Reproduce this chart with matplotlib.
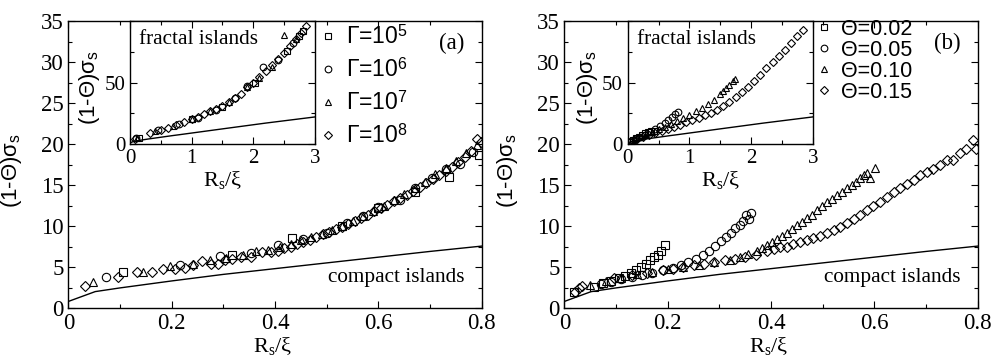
import matplotlib
matplotlib.use("Agg")
import matplotlib.pyplot as plt
from matplotlib.ticker import MultipleLocator, FormatStrFormatter

plt.rcParams['font.family'] = ['Liberation Serif', 'DejaVu Serif']
plt.rcParams['mathtext.fontset'] = 'custom'
plt.rcParams['mathtext.rm'] = 'Liberation Serif'
plt.rcParams['mathtext.it'] = 'Liberation Serif:italic'
plt.rcParams['mathtext.sf'] = 'Liberation Sans'

# ---- data ----
# compact islands curve (same in every axes)
comp_x = [0.0, 0.052, 0.1, 0.2, 0.3, 0.4, 0.5, 0.6, 0.7, 0.8, 1.5, 2.2, 3.0]
comp_y = [0.8, 2.0, 2.45, 3.3, 4.1, 4.8, 5.5, 6.2, 6.9, 7.55, 12.3, 17.0, 22.0]

# panel (a), main
a_g5_x = [0.106, 0.316, 0.432, 0.530, 0.600, 0.671, 0.736, 0.794]
a_g5_y = [4.4, 6.5, 8.5, 10.0, 12.2, 14.2, 16.0, 18.7]
a_g6_x = [0.072, 0.216, 0.293, 0.354, 0.406, 0.455, 0.500, 0.539, 0.570, 0.600, 0.642, 0.670, 0.703, 0.730, 0.758, 0.784]
a_g6_y = [3.8, 5.3, 6.3, 6.7, 7.7, 8.4, 9.2, 10.4, 11.2, 12.3, 13.2, 14.6, 15.8, 16.9, 17.6, 19.0]
a_g7_x = [0.048, 0.145, 0.196, 0.241, 0.275, 0.306, 0.338, 0.364, 0.386, 0.410, 0.430, 0.450, 0.470, 0.490, 0.510,
          0.530, 0.550, 0.570, 0.590, 0.610, 0.630, 0.650, 0.670, 0.690, 0.710, 0.730, 0.750, 0.770, 0.790]
a_g7_y = [3.2, 4.4, 5.1, 5.4, 5.9, 6.1, 6.5, 6.9, 7.1, 7.5, 7.8, 8.3, 8.6, 9.0, 9.5,
          10.0, 10.6, 11.2, 11.8, 12.5, 13.2, 13.9, 14.6, 15.4, 16.3, 17.1, 17.9, 18.9, 19.9]
a_g8_x = [0.032, 0.096, 0.132, 0.161, 0.183, 0.206, 0.225, 0.242, 0.258, 0.277, 0.290, 0.303, 0.316, 0.335, 0.354,
          0.374, 0.393, 0.405, 0.418, 0.430, 0.443, 0.455, 0.468, 0.480, 0.492, 0.505, 0.517, 0.530, 0.542, 0.555,
          0.567, 0.580, 0.592, 0.605, 0.617, 0.630, 0.642, 0.655, 0.667, 0.680, 0.692, 0.705, 0.717, 0.730, 0.742,
          0.755, 0.767, 0.780, 0.790, 0.798]
a_g8_y = [2.7, 3.8, 4.4, 4.4, 4.8, 4.7, 4.9, 5.3, 5.7, 5.4, 5.4, 5.8, 6.0, 6.2, 6.2,
          6.8, 6.8, 7.0, 7.3, 7.5, 7.8, 8.0, 8.3, 8.7, 9.0, 9.3, 9.6, 9.9, 10.3, 10.6,
          11.0, 11.4, 11.8, 12.2, 12.6, 13.0, 13.4, 13.8, 14.3, 14.7, 15.2, 15.7, 16.2, 16.7, 17.2,
          17.8, 18.4, 19.2, 20.6, 20.2]

# panel (a), inset
ia_g5_x = [0.15, 1.0, 1.5, 2.03, 2.55, 2.74, 2.80]
ia_g5_y = [5.0, 20.0, 30.0, 50.0, 76.0, 88.0, 92.0]
ia_g6_x = [0.10, 0.45, 0.80, 1.10, 1.40, 1.70, 1.90, 2.15, 2.40, 2.65]
ia_g6_y = [4.5, 11.0, 16.0, 21.5, 28.0, 37.0, 47.0, 63.0, 68.0, 82.0]
ia_g7_x = [0.12, 0.40, 0.70, 1.00, 1.30, 1.60, 1.90, 2.10, 2.30, 2.50, 2.70]
ia_g7_y = [5.0, 10.5, 15.0, 20.0, 26.5, 34.0, 46.0, 54.0, 63.0, 89.0, 85.0]
ia_g8_x = [0.08, 0.33, 0.50, 0.62, 0.75, 0.88, 1.00, 1.10, 1.20, 1.30, 1.40, 1.50, 1.60, 1.70, 1.80,
           1.90, 2.00, 2.10, 2.20, 2.30, 2.40, 2.50, 2.60, 2.70, 2.78, 2.86]
ia_g8_y = [4.0, 9.0, 11.5, 13.0, 15.5, 17.5, 20.0, 22.0, 24.0, 26.5, 28.5, 31.0, 34.0, 37.5, 41.0,
           46.0, 50.0, 54.5, 59.0, 64.0, 69.0, 74.0, 79.5, 85.0, 90.0, 96.0]

# panel (b), main
b_t02_x = [0.019, 0.057, 0.075, 0.090, 0.105, 0.118, 0.129, 0.138, 0.148, 0.158, 0.166, 0.174, 0.181, 0.188, 0.195]
b_t02_y = [1.9, 2.6, 3.0, 3.3, 3.6, 3.9, 4.3, 4.6, 5.0, 5.4, 5.8, 6.2, 6.5, 6.9, 7.7]
b_t05_x = [0.071, 0.090, 0.110, 0.130, 0.150, 0.170, 0.190, 0.210, 0.225, 0.240, 0.255, 0.268, 0.280, 0.292,
           0.303, 0.313, 0.322, 0.331, 0.339, 0.346, 0.352, 0.358, 0.362]
b_t05_y = [2.9, 3.2, 3.5, 3.8, 4.0, 4.3, 4.6, 4.9, 5.2, 5.6, 6.0, 6.5, 7.0, 7.6,
           8.2, 8.7, 9.2, 9.7, 10.1, 10.6, 11.4, 10.8, 11.6]
b_t10_x = [0.050, 0.080, 0.110, 0.140, 0.170, 0.200, 0.230, 0.260, 0.290, 0.320, 0.340, 0.356, 0.372, 0.382, 0.392,
           0.402, 0.411, 0.421, 0.430, 0.440, 0.450, 0.460, 0.469, 0.479, 0.488, 0.498, 0.508, 0.518, 0.527, 0.537,
           0.547, 0.556, 0.565, 0.573, 0.580, 0.586, 0.592, 0.601]
b_t10_y = [2.8, 3.3, 3.7, 4.1, 4.4, 4.7, 5.0, 5.3, 5.6, 5.9, 6.2, 6.6, 7.0, 7.3, 7.7,
           8.0, 8.4, 8.8, 9.2, 9.6, 10.1, 10.5, 11.0, 11.4, 11.9, 12.4, 12.9, 13.3, 13.8, 14.2,
           14.6, 15.0, 15.4, 15.8, 16.2, 16.5, 15.8, 17.1]
b_t15_x = [0.020, 0.029, 0.035, 0.097, 0.130, 0.160, 0.190, 0.210, 0.230, 0.250, 0.270, 0.290, 0.310, 0.330, 0.350,
           0.370, 0.392, 0.405, 0.418, 0.430, 0.443, 0.456, 0.469, 0.482, 0.495, 0.508, 0.521, 0.534, 0.547, 0.560,
           0.573, 0.585, 0.598, 0.611, 0.624, 0.637, 0.650, 0.663, 0.676, 0.688, 0.701, 0.714, 0.727, 0.740, 0.752,
           0.765, 0.778, 0.790, 0.797]
b_t15_y = [2.0, 2.4, 2.7, 3.6, 4.0, 4.3, 4.6, 4.8, 5.0, 5.2, 5.4, 5.6, 5.8, 6.0, 6.2,
           6.5, 6.9, 7.2, 7.5, 7.5, 7.8, 8.1, 8.3, 8.5, 8.8, 9.2, 9.5, 9.9, 10.4, 10.9,
           11.4, 12.0, 12.4, 12.9, 13.5, 14.2, 14.6, 15.1, 15.6, 16.2, 16.6, 17.0, 17.5, 18.1, 18.0,
           18.9, 19.4, 20.5, 19.4]

# panel (b), inset
ib_t02_x = [0.03, 0.08, 0.13, 0.18, 0.23, 0.28, 0.33, 0.38, 0.43]
ib_t02_y = [2.0, 3.2, 4.6, 6.0, 7.5, 9.0, 10.0, 10.3, 10.5]
ib_t05_x = [0.05, 0.12, 0.20, 0.28, 0.36, 0.44, 0.52, 0.60, 0.66, 0.72, 0.77, 0.81]
ib_t05_y = [2.5, 4.0, 5.5, 7.5, 9.5, 12.0, 14.5, 17.0, 19.5, 22.0, 24.0, 26.0]
ib_t10_x = [0.10, 0.20, 0.30, 0.40, 0.50, 0.60, 0.70, 0.80, 0.90, 1.00, 1.10, 1.20, 1.30, 1.40, 1.50,
            1.55, 1.60, 1.65, 1.70, 1.74]
ib_t10_y = [4.0, 6.0, 8.0, 10.0, 12.0, 14.0, 16.5, 19.0, 21.0, 23.5, 26.5, 29.5, 32.5, 36.0, 40.5,
            43.0, 45.5, 48.0, 51.0, 53.0]
ib_t15_x = [0.05, 0.15, 0.25, 0.35, 0.45, 0.55, 0.65, 0.75, 0.85, 0.95, 1.05, 1.15, 1.25, 1.35, 1.45,
            1.55, 1.65, 1.75, 1.85, 1.95, 2.05, 2.15, 2.25, 2.35, 2.45, 2.55, 2.65, 2.75, 2.85]
ib_t15_y = [2.2, 3.8, 5.5, 7.1, 8.8, 10.5, 12.2, 14.0, 15.8, 17.6, 19.3, 21.3, 23.3, 25.3, 27.5,
            30.5, 34.0, 38.0, 42.0, 46.5, 51.5, 56.5, 61.5, 66.5, 71.5, 76.5, 82.0, 87.5, 93.0]

gamma_labels = ['Γ=10$^{\\mathsf{5}}$', 'Γ=10$^{\\mathsf{6}}$', 'Γ=10$^{\\mathsf{7}}$', 'Γ=10$^{\\mathsf{8}}$']
theta_labels = ['Θ=0.02', 'Θ=0.05', 'Θ=0.10', 'Θ=0.15']
markers = ['s', 'o', '^', 'D']
msizes = [5.5, 6.0, 6.0, 4.6]

sans = ['Liberation Sans', 'DejaVu Sans']
ylab = '(1-Θ)$\\mathsf{\\sigma_s}$'
xlab = '$\\mathrm{R_s/\\xi}$'

fig = plt.figure(figsize=(9.92, 3.58), dpi=100)


def style(ax, size):
    ax.tick_params(which='both', direction='in', top=True, right=True, labelsize=size, width=0.8)
    ax.tick_params(which='major', length=5)
    ax.tick_params(which='minor', length=3)
    for s in ax.spines.values():
        s.set_linewidth(1.0)


panels = [
    dict(left=0.0689, tag='(a)', labels=gamma_labels,
         main=[(a_g5_x, a_g5_y), (a_g6_x, a_g6_y), (a_g7_x, a_g7_y), (a_g8_x, a_g8_y)],
         inset=[(ia_g5_x, ia_g5_y), (ia_g6_x, ia_g6_y), (ia_g7_x, ia_g7_y), (ia_g8_x, ia_g8_y)],
         inleft=130, legx=319, legy=25, lspace=0.4, lsize=16.5),
    dict(left=0.5689, tag='(b)', labels=theta_labels,
         main=[(b_t02_x, b_t02_y), (b_t05_x, b_t05_y), (b_t10_x, b_t10_y), (b_t15_x, b_t15_y)],
         inset=[(ib_t02_x, ib_t02_y), (ib_t05_x, ib_t05_y), (ib_t10_x, ib_t10_y), (ib_t15_x, ib_t15_y)],
         inleft=627.7, legx=815, legy=19, lspace=0.0, lsize=15.5),
]

W, H = 992.0, 358.0
for p in panels:
    ax = fig.add_axes([p['left'], 1 - 308 / H, 413.4 / W, 287 / H])
    ax.plot(comp_x, comp_y, color='black', lw=1.0)
    handles = []
    for (xs, ys), m, ms, lab in zip(p['main'], markers, msizes, p['labels']):
        h, = ax.plot(xs, ys, ls='none', marker=m, ms=ms, mfc='none', mec='black', mew=0.8, label=lab)
        handles.append(h)
    ax.set_xlim(0, 0.8)
    ax.set_ylim(0, 35)
    ax.xaxis.set_major_locator(MultipleLocator(0.2))
    ax.xaxis.set_minor_locator(MultipleLocator(0.1))
    ax.yaxis.set_major_locator(MultipleLocator(5))
    ax.yaxis.set_minor_locator(MultipleLocator(2.5))
    ax.xaxis.set_major_formatter(FormatStrFormatter('%g'))
    style(ax, 16.5)
    ax.set_xlabel(xlab, fontsize=16)
    ax.xaxis.set_label_coords(0.495, -0.095)
    ax.set_ylabel(ylab, fontsize=16, family=sans)
    ax.yaxis.set_label_coords(-0.108, 0.48)
    ax.text(0.794, 0.108, 'compact islands', transform=ax.transAxes, fontsize=15.3,
            ha='center', va='center')
    ax.text(0.927, 0.922, p['tag'], transform=ax.transAxes, fontsize=16.5, ha='center', va='center')

    ax.legend(handles=handles, loc='upper left',
              bbox_to_anchor=(p['legx'] / W, 1 - p['legy'] / H), bbox_transform=fig.transFigure,
              frameon=False, borderpad=0, borderaxespad=0, handlelength=0.8, handletextpad=0.4,
              labelspacing=p['lspace'], markerscale=0.8, prop={'family': sans, 'size': p['lsize']})

    ins = fig.add_axes([p['inleft'] / W, 1 - 144 / H, 185 / W, 123 / H])
    ins.plot(comp_x, comp_y, color='black', lw=1.0)
    for (xs, ys), m, ms in zip(p['inset'], markers, msizes):
        ins.plot(xs, ys, ls='none', marker=m, ms=ms * 0.8, mfc='none', mec='black', mew=0.8)
    ins.set_xlim(0, 3)
    ins.set_ylim(0, 100)
    ins.set_xticks([0, 1, 2, 3])
    ins.set_yticks([0, 50])
    ins.xaxis.set_minor_locator(MultipleLocator(0.5))
    ins.yaxis.set_minor_locator(MultipleLocator(25))
    style(ins, 15)
    ins.set_xlabel(xlab, fontsize=16)
    ins.xaxis.set_label_coords(0.5, -0.2)
    ins.set_ylabel(ylab, fontsize=16, family=sans)
    ins.yaxis.set_label_coords(-0.15, 0.46)
    ins.text(0.37, 0.85, 'fractal islands', transform=ins.transAxes, fontsize=15.3, ha='center', va='center')

fig.savefig('out.png', dpi=100)
